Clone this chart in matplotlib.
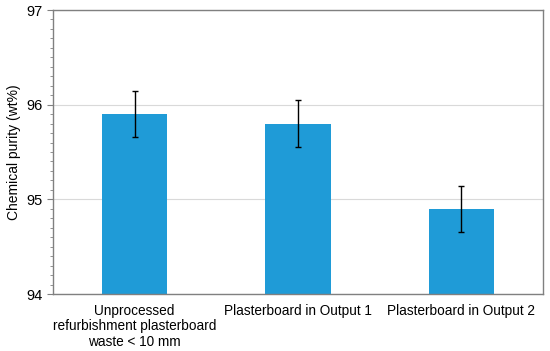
import matplotlib
matplotlib.use("Agg")
import matplotlib.pyplot as plt
from matplotlib.ticker import MultipleLocator

plt.rcParams['font.family'] = ['Liberation Sans', 'DejaVu Sans']

categories = ["Unprocessed\nrefurbishment plasterboard\nwaste < 10 mm",
              "Plasterboard in Output 1",
              "Plasterboard in Output 2"]
purity = [95.9, 95.8, 94.9]
errors = [0.24, 0.25, 0.24]

fig = plt.figure(figsize=(5.5, 3.51), dpi=100)
ax = fig.add_axes([53 / 550, 1 - 294 / 351, 490 / 550, 284 / 351])

x = range(len(categories))
ax.bar(x, [p - 94 for p in purity], bottom=94, width=0.4, color='#1f9bd7', zorder=2)
ax.errorbar(x, purity, yerr=errors, fmt='none', ecolor='black', elinewidth=1,
            capsize=2.5, capthick=1, zorder=3)

ax.set_xlim(-0.5, 2.5)
ax.set_ylim(94, 97)
ax.yaxis.set_major_locator(MultipleLocator(1))
ax.yaxis.set_minor_locator(MultipleLocator(0.1))
ax.grid(axis='y', color='#d9d9d9', linewidth=0.8, zorder=0)
ax.set_xticks(list(x))
ax.set_xticklabels(categories, fontsize=9.8, linespacing=1.15)
ax.tick_params(axis='x', length=0, pad=7)
ax.tick_params(axis='y', which='major', length=4, labelsize=10.5, color='#808080', direction='out')
ax.tick_params(axis='y', which='minor', length=2.5, color='#808080')
for s in ax.spines.values():
    s.set_color('#808080')
    s.set_linewidth(1)
ax.set_ylabel("Chemical purity (wt%)", fontsize=10)

fig.savefig("out.png", dpi=100)
